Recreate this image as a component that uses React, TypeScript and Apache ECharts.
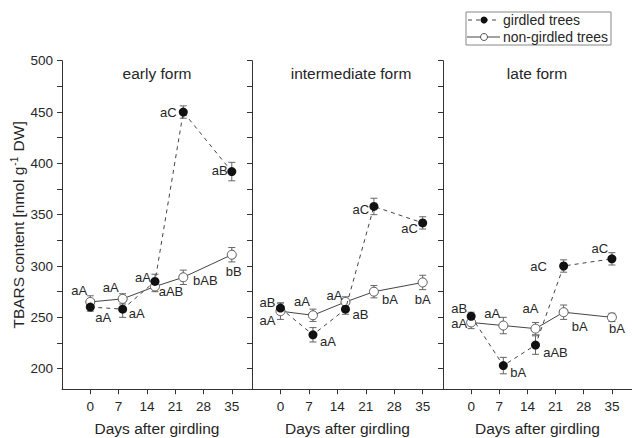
import React, { useEffect, useRef } from "react";
import * as echarts from "echarts";

// Sampling days and axis ticks
const days = [0, 8, 16, 23, 35];
const dayTicks = [0, 7, 14, 21, 28, 35];
const yMajorTicks = [200, 250, 300, 350, 400, 450, 500];
const yAllTicks = [200, 225, 250, 275, 300, 325, 350, 375, 400, 425, 450, 475, 500];
const panelNames = ["early form", "intermediate form", "late form"];

// TBARS content, nmol g-1 DW (mean and ± error)
const earlyGirdled = [260, 258, 285, 450, 392];
const earlyGirdledErr = [4, 8, 7, 6, 9];
const earlyGirdledLetters = ["aA", "aA", "aA", "aC", "aB"];
const earlyControl = [265, 268, 280, 289, 311];
const earlyControlErr = [6, 5, 5, 7, 7];
const earlyControlLetters = ["aA", "aA", "aAB", "bAB", "bB"];

const midGirdled = [259, 233, 258, 358, 342];
const midGirdledErr = [5, 7, 5, 8, 6];
const midGirdledLetters = ["aB", "aA", "aB", "aC", "aC"];
const midControl = [256, 252, 265, 275, 284];
const midControlErr = [8, 6, 5, 6, 7];
const midControlLetters = ["aA", "aA", "aA", "bA", "bA"];

const lateGirdled = [251, 203, 223, 300, 307];
const lateGirdledErr = [4, 8, 9, 6, 6];
const lateGirdledLetters = ["aB", "bA", "aAB", "aC", "aC"];
const lateControl = [245, 242, 239, 255, 250];
const lateControlErr = [6, 8, 6, 7, 4];
const lateControlLetters = ["aA", "aA", "aA", "bA", "bA"];

// Letter placement relative to each marker centre (px)
const labelOffsets = {
  girdled: [
    [[13, 10], [14, 4], [-12, -4], [-15, 0], [-12, -1]],
    [[-13, -6], [15, 7], [15, 5], [-13, 3], [-13, 6]],
    [[-12, -8], [15, 7], [20, 7], [-25, 0], [-12, -10]],
  ],
  control: [
    [[-11, -11], [-12, -11], [16, 5], [22, 3], [2, 17]],
    [[-13, 9], [-11, -14], [-11, -6], [16, 8], [0, 17]],
    [[-12, 1], [-11, -12], [-5, -20], [16, 14], [5, 11]],
  ],
};

const panels = [
  { g: earlyGirdled, ge: earlyGirdledErr, gl: earlyGirdledLetters, c: earlyControl, ce: earlyControlErr, cl: earlyControlLetters },
  { g: midGirdled, ge: midGirdledErr, gl: midGirdledLetters, c: midControl, ce: midControlErr, cl: midControlLetters },
  { g: lateGirdled, ge: lateGirdledErr, gl: lateGirdledLetters, c: lateControl, ce: lateControlErr, cl: lateControlLetters },
];

const FONT = "Liberation Sans, Arial, sans-serif";
const AXIS = "#333";
const TEXT = "#262626";

const gridLayout = [
  { left: 62, width: 190 },
  { left: 252, width: 191 },
  { left: 443, width: 189 },
];
const titleX = [157, 351, 537];

function errorBarSeries(idx: number, vals: number[], errs: number[], z: number) {
  return {
    type: "custom",
    xAxisIndex: idx,
    yAxisIndex: idx,
    z,
    silent: true,
    data: days.map((d, i) => [d, vals[i] - errs[i], vals[i] + errs[i]]),
    renderItem: (_p: any, api: any) => {
      const x = api.value(0);
      const lo = api.coord([x, api.value(1)]);
      const hi = api.coord([x, api.value(2)]);
      const cap = 3.5;
      const style = { stroke: "#666", lineWidth: 1 };
      return {
        type: "group",
        children: [
          { type: "line", shape: { x1: lo[0], y1: lo[1], x2: hi[0], y2: hi[1] }, style },
          { type: "line", shape: { x1: lo[0] - cap, y1: lo[1], x2: lo[0] + cap, y2: lo[1] }, style },
          { type: "line", shape: { x1: hi[0] - cap, y1: hi[1], x2: hi[0] + cap, y2: hi[1] }, style },
        ],
      };
    },
  };
}

function lineData(vals: number[], letters: string[], offsets: number[][]) {
  return days.map((d, i) => ({
    value: [d, vals[i]],
    label: { show: true, formatter: letters[i], offset: offsets[i] },
  }));
}

export default function App() {
  const ref = useRef<HTMLDivElement>(null);

  useEffect(() => {
    document.body.style.margin = "0";
    if (!ref.current) return;
    const chart = echarts.init(ref.current, null, { renderer: "svg" });

    const grid = gridLayout.map((g) => ({
      left: g.left,
      width: g.width,
      top: 60.7,
      height: 328.5,
      containLabel: false,
      outerBoundsMode: "none",
    }));

    const xAxis = gridLayout.map((_, i) => ({
      type: "value",
      gridIndex: i,
      min: -7,
      max: 40,
      name: "Days after girdling",
      nameLocation: "middle",
      nameGap: 31,
      nameTextStyle: { fontSize: 15.5, color: TEXT, fontFamily: FONT },
      splitLine: { show: false },
      axisLine: { show: true, onZero: false, lineStyle: { color: AXIS, width: 1 } },
      axisTick: { show: true, inside: false, length: 5, customValues: dayTicks, lineStyle: { color: AXIS } },
      axisLabel: { show: true, customValues: dayTicks, margin: 10, fontSize: 13.5, color: TEXT, fontFamily: FONT },
    }));

    const yAxis = gridLayout.map((_, i) => ({
      type: "value",
      gridIndex: i,
      min: 180,
      max: 500,
      name: i === 0 ? "TBARS content [nmol g{sup|-1} DW]" : "",
      nameLocation: "middle",
      nameRotate: 90,
      nameGap: 33,
      nameTextStyle: {
        fontSize: 15.5,
        color: TEXT,
        fontFamily: FONT,
        rich: { sup: { fontSize: 10, verticalAlign: "top", color: TEXT, fontFamily: FONT, padding: [0, 1, 8, 1] } },
      },
      splitLine: { show: false },
      axisLine: { show: true, onZero: false, lineStyle: { color: AXIS, width: 1 } },
      axisTick: { show: true, inside: false, length: 5, customValues: yAllTicks, lineStyle: { color: AXIS } },
      axisLabel: {
        show: i === 0,
        customValues: yMajorTicks,
        margin: 9,
        fontSize: 13.5,
        color: TEXT,
        fontFamily: FONT,
      },
    }));

    const series: any[] = [];
    panels.forEach((p, i) => {
      series.push(errorBarSeries(i, p.c, p.ce, 1));
      series.push(errorBarSeries(i, p.g, p.ge, 1));
      series.push({
        type: "line",
        name: "non-girdled trees",
        xAxisIndex: i,
        yAxisIndex: i,
        z: 3,
        symbol: "circle",
        symbolSize: 9,
        itemStyle: { color: "#fff", borderColor: "#555", borderWidth: 1 },
        lineStyle: { color: "#444", width: 1, type: "solid" },
        label: { show: true, position: "inside", fontSize: 13, color: TEXT, fontFamily: FONT },
        data: lineData(p.c, p.cl, labelOffsets.control[i]),
      });
      series.push({
        type: "line",
        name: "girdled trees",
        xAxisIndex: i,
        yAxisIndex: i,
        z: 4,
        symbol: "circle",
        symbolSize: 9,
        itemStyle: { color: "#111", borderColor: "#111", borderWidth: 0 },
        lineStyle: { color: "#444", width: 1, type: [4, 4] },
        label: { show: true, position: "inside", fontSize: 13, color: TEXT, fontFamily: FONT },
        data: lineData(p.g, p.gl, labelOffsets.girdled[i]),
      });
    });

    const graphic: any[] = panelNames.map((n, i) => ({
      type: "text",
      x: titleX[i],
      y: 73,
      style: { text: n, fontSize: 15.5, fill: TEXT, fontFamily: FONT, textAlign: "center", textVerticalAlign: "middle" },
    }));

    // Legend box
    graphic.push(
      { type: "rect", shape: { x: 466, y: 12, width: 145, height: 33 }, style: { fill: "#fff", stroke: "#888", lineWidth: 1 } },
      { type: "line", shape: { x1: 468, y1: 20, x2: 499, y2: 20 }, style: { stroke: "#444", lineWidth: 1, lineDash: [4, 4] } },
      { type: "circle", shape: { cx: 484, cy: 20, r: 3.5 }, style: { fill: "#111" } },
      { type: "text", x: 503, y: 20, style: { text: "girdled trees", fontSize: 14, fill: TEXT, fontFamily: FONT, textVerticalAlign: "middle" } },
      { type: "line", shape: { x1: 467, y1: 37, x2: 500, y2: 37 }, style: { stroke: "#444", lineWidth: 1 } },
      { type: "circle", shape: { cx: 484, cy: 37, r: 3.5 }, style: { fill: "#fff", stroke: "#555", lineWidth: 1 } },
      { type: "text", x: 503, y: 37, style: { text: "non-girdled trees", fontSize: 14, fill: TEXT, fontFamily: FONT, textVerticalAlign: "middle" } }
    );

    chart.setOption({
      animation: false,
      backgroundColor: "#fff",
      textStyle: { fontFamily: FONT },
      grid,
      xAxis,
      yAxis,
      series,
      graphic,
    });

    return () => chart.dispose();
  }, []);

  return <div ref={ref} style={{ width: 632, height: 438 }} />;
}
